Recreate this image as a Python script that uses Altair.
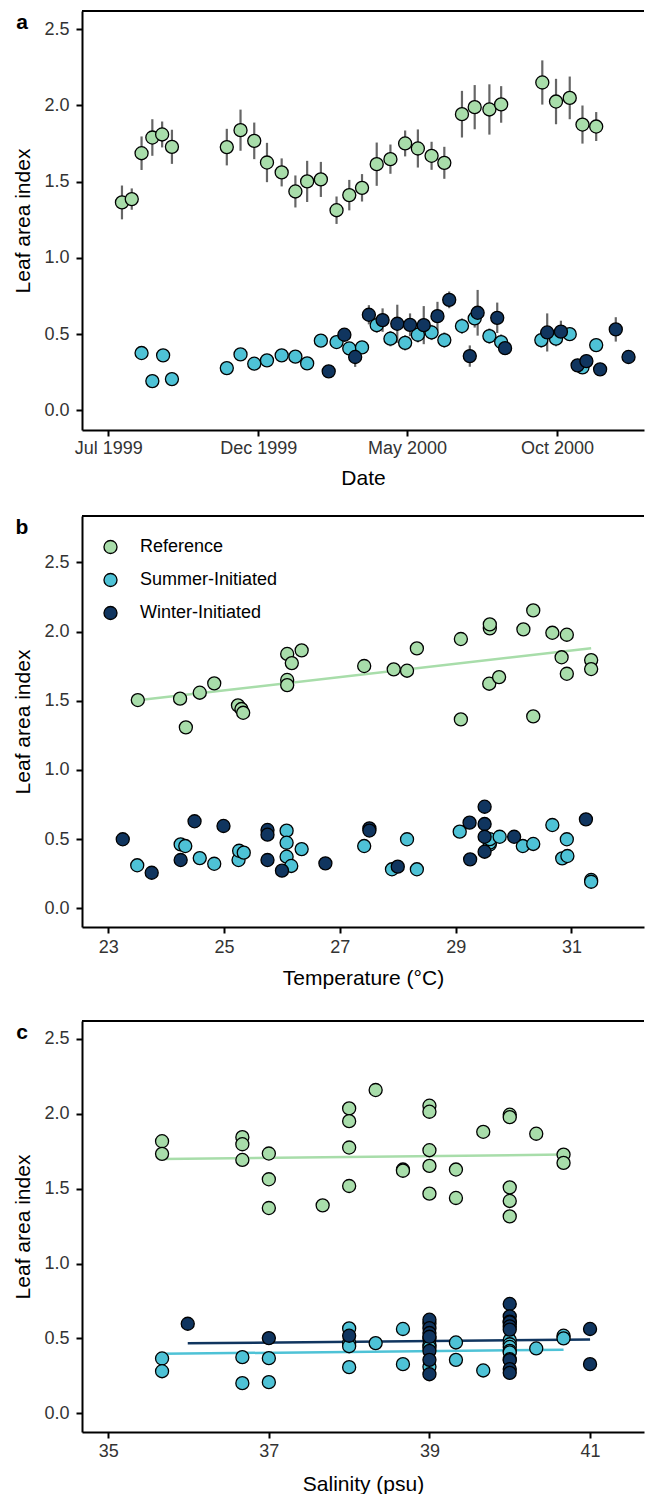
import altair as alt
import pandas as pd

FONT = "Liberation Sans"
GROUPS = ["Reference", "Summer-Initiated", "Winter-Initiated"]
COLORS = ["#a8ddaa", "#4ec2d6", "#10355f"]

# ---------------- panel a : LAI through time (mean +/- error) ----------------
ref_dates = ["1999-07-15", "1999-07-25", "1999-08-04", "1999-08-15", "1999-08-25", "1999-09-04",
             "1999-10-30", "1999-11-13", "1999-11-27", "1999-12-10", "1999-12-25", "2000-01-08",
             "2000-01-20", "2000-02-03", "2000-02-19", "2000-03-03", "2000-03-16", "2000-03-31",
             "2000-04-14", "2000-04-29", "2000-05-12", "2000-05-26", "2000-06-08", "2000-06-26",
             "2000-07-09", "2000-07-24", "2000-08-05", "2000-09-16", "2000-09-30", "2000-10-14",
             "2000-10-27", "2000-11-10"]
ref_lai = [1.364, 1.386, 1.687, 1.790, 1.810, 1.729, 1.727, 1.838, 1.768, 1.626, 1.561, 1.436,
           1.502, 1.515, 1.313, 1.412, 1.460, 1.615, 1.648, 1.751, 1.718, 1.670, 1.624, 1.943,
           1.989, 1.974, 2.007, 2.151, 2.026, 2.050, 1.875, 1.862]
ref_err = [0.111, 0.070, 0.110, 0.120, 0.085, 0.112, 0.120, 0.135, 0.120, 0.129, 0.092, 0.105,
           0.135, 0.115, 0.090, 0.100, 0.090, 0.142, 0.096, 0.085, 0.125, 0.092, 0.105, 0.153,
           0.145, 0.165, 0.120, 0.145, 0.149, 0.140, 0.125, 0.095]

sum_dates = ["1999-08-04", "1999-08-15", "1999-08-26", "1999-09-04", "1999-10-30", "1999-11-13",
             "1999-11-27", "1999-12-10", "1999-12-25", "2000-01-08", "2000-01-20", "2000-02-03",
             "2000-02-19", "2000-03-03", "2000-03-16", "2000-03-31", "2000-04-14", "2000-04-29",
             "2000-05-12", "2000-05-26", "2000-06-08", "2000-06-26", "2000-07-09", "2000-07-24",
             "2000-08-05", "2000-09-15", "2000-09-30", "2000-10-14", "2000-10-27", "2000-11-10"]
sum_lai = [0.376, 0.192, 0.361, 0.205, 0.277, 0.367, 0.306, 0.328, 0.361, 0.352, 0.308, 0.457,
           0.448, 0.406, 0.413, 0.559, 0.470, 0.443, 0.496, 0.511, 0.461, 0.553, 0.603, 0.487,
           0.448, 0.461, 0.470, 0.500, 0.282, 0.428]
sum_err = [0.03, 0.03, 0.03, 0.03, 0.03, 0.03, 0.03, 0.03, 0.03, 0.03, 0.03, 0.04,
           0.04, 0.04, 0.04, 0.05, 0.05, 0.05, 0.05, 0.05, 0.05, 0.05, 0.06, 0.05,
           0.05, 0.05, 0.05, 0.04, 0.03, 0.04]

win_dates = ["2000-02-11", "2000-02-27", "2000-03-09", "2000-03-23", "2000-04-06", "2000-04-21",
             "2000-05-04", "2000-05-18", "2000-06-01", "2000-06-13", "2000-07-04", "2000-07-12",
             "2000-08-01", "2000-08-09", "2000-09-21", "2000-10-05", "2000-10-22", "2000-10-31",
             "2000-11-14", "2000-11-30", "2000-12-13"]
win_lai = [0.256, 0.496, 0.350, 0.627, 0.592, 0.568, 0.561, 0.559, 0.618, 0.725, 0.356, 0.640,
           0.607, 0.408, 0.511, 0.516, 0.295, 0.323, 0.269, 0.531, 0.350]
win_err = [0.03, 0.04, 0.065, 0.063, 0.077, 0.125, 0.075, 0.125, 0.094, 0.055, 0.070, 0.150,
           0.100, 0.040, 0.125, 0.072, 0.040, 0.040, 0.030, 0.080, 0.030]

# ---------------- panel b : LAI vs temperature ----------------
ref_temp = [23.51, 24.24, 24.34, 24.58, 24.83, 25.24, 25.30, 25.33, 26.09, 26.17, 26.09, 26.09,
            26.34, 27.42, 27.93, 28.16, 28.33, 29.09, 29.09, 29.59, 29.59, 29.58, 29.75, 30.17,
            30.34, 30.34, 30.67, 30.92, 30.83, 30.92, 31.34, 31.34]
ref_lai_b = [1.505, 1.515, 1.308, 1.558, 1.626, 1.467, 1.440, 1.413, 1.838, 1.772, 1.650, 1.613,
             1.864, 1.751, 1.727, 1.717, 1.878, 1.946, 1.365, 2.023, 2.052, 1.623, 1.671, 2.016,
             2.153, 1.387, 1.991, 1.977, 1.814, 1.695, 1.794, 1.729]
sum_temp = [23.50, 24.25, 24.33, 24.58, 24.83, 25.25, 25.26, 25.34, 26.08, 26.08, 26.08, 26.16,
            26.34, 27.42, 27.90, 28.16, 28.33, 29.07, 29.59, 29.59, 29.59, 29.76, 30.16, 30.34,
            30.67, 30.92, 30.84, 30.93, 31.34, 31.34]
sum_lai_b = [0.311, 0.462, 0.450, 0.363, 0.322, 0.349, 0.416, 0.402, 0.561, 0.474, 0.373, 0.306,
             0.428, 0.450, 0.282, 0.499, 0.282, 0.554, 0.461, 0.475, 0.500, 0.517, 0.450, 0.465,
             0.602, 0.499, 0.361, 0.378, 0.205, 0.192]
win_temp = [23.25, 23.75, 24.25, 24.49, 24.99, 25.75, 25.75, 25.75, 26.00, 26.75, 27.51, 27.51,
            28.00, 29.24, 29.25, 29.50, 29.50, 29.50, 29.50, 30.01, 31.25]
win_lai_b = [0.499, 0.257, 0.349, 0.629, 0.595, 0.566, 0.532, 0.349, 0.272, 0.325, 0.578, 0.562,
             0.301, 0.619, 0.354, 0.734, 0.609, 0.517, 0.409, 0.517, 0.643]
# fitted line (reference): end points
fitb_ref_x = [23.51, 31.34]
fitb_ref_y = [1.504, 1.879]

# ---------------- panel c : LAI vs salinity ----------------
ref_sal = [35.67, 35.67, 36.67, 36.67, 36.67, 37.0, 37.0, 37.0, 37.67, 38.0, 38.0, 38.0, 38.0,
           38.33, 38.67, 38.67, 39.0, 39.0, 39.0, 39.0, 39.0, 39.33, 39.33, 39.67, 40.0, 40.0,
           40.0, 40.0, 40.0, 40.33, 40.67, 40.67]
ref_lai_c = [1.817, 1.733, 1.844, 1.797, 1.692, 1.735, 1.563, 1.371, 1.389, 2.036, 1.951, 1.775,
             1.518, 2.159, 1.628, 1.620, 2.054, 2.014, 1.757, 1.652, 1.467, 1.628, 1.438, 1.880,
             1.994, 1.978, 1.509, 1.418, 1.315, 1.867, 1.728, 1.672]
sum_sal = [35.67, 35.67, 36.67, 36.67, 37.0, 37.0, 38.0, 38.0, 38.0, 38.0, 38.33, 38.67, 38.67,
           39.0, 39.0, 39.0, 39.0, 39.0, 39.33, 39.33, 39.67, 40.0, 40.0, 40.0, 40.0, 40.0, 40.0,
           40.33, 40.67, 40.67]
sum_lai_c = [0.366, 0.281, 0.375, 0.201, 0.368, 0.208, 0.567, 0.470, 0.448, 0.308, 0.469, 0.563,
             0.328, 0.600, 0.500, 0.457, 0.440, 0.310, 0.473, 0.357, 0.286, 0.489, 0.461, 0.443,
             0.417, 0.406, 0.361, 0.433, 0.518, 0.500]
win_sal = [35.99, 37.0, 38.0, 39.0, 39.0, 39.0, 39.0, 39.0, 39.0, 39.0, 40.0, 40.0, 40.0, 40.0,
           40.0, 40.0, 40.0, 40.0, 40.0, 41.0, 41.0]
win_lai_c = [0.598, 0.502, 0.518, 0.625, 0.568, 0.536, 0.511, 0.417, 0.357, 0.261, 0.730, 0.647,
             0.612, 0.607, 0.580, 0.559, 0.355, 0.295, 0.270, 0.563, 0.328]
fitc_ref_x = [35.67, 40.67]
fitc_ref_y = [1.699, 1.728]
fitc_sum_x = [35.67, 40.67]
fitc_sum_y = [0.397, 0.425]
fitc_win_x = [35.99, 41.0]
fitc_win_y = [0.467, 0.493]

# ---------------- tables ----------------
def table(xname, groups, gname="group"):
    rows = []
    for g, xs, ys in groups:
        for x, y in zip(xs, ys):
            rows.append({xname: x, "lai": y, gname: g})
    return pd.DataFrame(rows)

df_a = pd.DataFrame(
    [{"date": d, "lai": v, "err": e, "group": GROUPS[0]} for d, v, e in zip(ref_dates, ref_lai, ref_err)]
    + [{"date": d, "lai": v, "err": e, "group": GROUPS[1]} for d, v, e in zip(sum_dates, sum_lai, sum_err)]
    + [{"date": d, "lai": v, "err": e, "group": GROUPS[2]} for d, v, e in zip(win_dates, win_lai, win_err)]
)
df_b = table("temp", [(GROUPS[0], ref_temp, ref_lai_b), (GROUPS[1], sum_temp, sum_lai_b),
                      (GROUPS[2], win_temp, win_lai_b)])
fit_b = table("temp", [(GROUPS[0], fitb_ref_x, fitb_ref_y)], gname="fit")
df_c = table("sal", [(GROUPS[0], ref_sal, ref_lai_c), (GROUPS[1], sum_sal, sum_lai_c),
                     (GROUPS[2], win_sal, win_lai_c)])
fit_c = table("sal", [(GROUPS[0], fitc_ref_x, fitc_ref_y), (GROUPS[1], fitc_sum_x, fitc_sum_y),
                      (GROUPS[2], fitc_win_x, fitc_win_y)], gname="fit")
df_leg = pd.DataFrame({"group": GROUPS})

W = 562
PT_SIZE = 170
PT_STROKE = 1.3
YTICKS = [0, 0.5, 1.0, 1.5, 2.0, 2.5]
PANEL_HEIGHTS = {"a": 419, "b": 411, "c": 411}


def cscale():
    return alt.Scale(domain=GROUPS, range=COLORS)


def yenc(field, domain):
    return alt.Y(field, scale=alt.Scale(domain=domain, nice=False, zero=False),
                 axis=alt.Axis(title="Leaf area index", values=YTICKS, format=".1f"))


def points(data, xenc, ydomain):
    return alt.Chart(data).mark_circle(size=PT_SIZE, stroke="black", strokeWidth=PT_STROKE,
                                       opacity=1).encode(
        x=xenc, y=yenc("lai:Q", ydomain),
        color=alt.Color("group:N", scale=cscale(), legend=None))


def fit_lines(data, xenc, ydomain):
    return alt.Chart(data).mark_line(strokeWidth=2.5).encode(
        x=xenc, y=yenc("lai:Q", ydomain),
        stroke=alt.Stroke("fit:N", scale=cscale(), legend=None),
        detail="fit:N")


def top_border():
    return alt.Chart(pd.DataFrame({"k": [0]})).mark_rule(color="black", strokeWidth=2).encode(
        x=alt.value(0), x2=alt.value(W), y=alt.value(0))


def panel_label(txt):
    return alt.Chart(pd.DataFrame({"t": [txt]})).mark_text(
        font=FONT, fontSize=21, fontWeight="bold", align="center", baseline="alphabetic", color="black"
    ).encode(x=alt.value(-60), y=alt.value(18), text="t:N")


def dt(y, m, d, h=0):
    return alt.DateTime(year=y, month=m, date=d, hours=h, utc=True)


# ---- panel a ----
YA = [-0.129, 2.62]
xa = alt.X("date:T",
           scale=alt.Scale(type="utc", domain=[dt(1999, 6, 4, 5), dt(2000, 12, 28, 19)]),
           axis=alt.Axis(title="Date", format="%b %Y", labelPadding=3, titlePadding=10,
                         values=[dt(1999, 7, 1), dt(1999, 12, 1), dt(2000, 5, 1), dt(2000, 10, 1)]))
err_a = alt.Chart(df_a).transform_calculate(
    lo="datum.lai - datum.err", hi="datum.lai + datum.err"
).mark_rule(color="#666666", strokeWidth=2.2).encode(x=xa, y=yenc("lo:Q", YA), y2="hi:Q")
chart_a = alt.layer(top_border(), err_a, points(df_a, xa, YA), panel_label("a")).properties(
    width=W, height=PANEL_HEIGHTS["a"])

# ---- panel b ----
YB = [-0.135, 2.835]
xb = alt.X("temp:Q", scale=alt.Scale(domain=[22.546, 32.253], nice=False, zero=False),
           axis=alt.Axis(title="Temperature (°C)", values=[23, 25, 27, 29, 31], labelPadding=5,
                         titlePadding=11))
data_b = alt.layer(fit_lines(fit_b, xb, YB), points(df_b, xb, YB))
# legend (inside the top-left corner of panel b), one row per group, on its own row scale
leg_row = alt.Y("group:N", scale=alt.Scale(domain=GROUPS, range=[31, 97], type="point", padding=0),
                axis=None)
leg_sym = alt.Chart(df_leg).mark_circle(size=PT_SIZE, stroke="black", strokeWidth=PT_STROKE,
                                        opacity=1).encode(
    x=alt.value(28.5), y=leg_row, color=alt.Color("group:N", scale=cscale(), legend=None))
leg_txt = alt.Chart(df_leg).mark_text(font=FONT, fontSize=18, align="left", baseline="middle",
                                      color="black").encode(
    x=alt.value(58), y=leg_row, text="group:N")
legend_b = alt.layer(leg_sym, leg_txt)
chart_b = alt.layer(top_border(), data_b, legend_b, panel_label("b")).resolve_scale(
    y="independent").resolve_axis(y="independent").properties(
    width=W, height=PANEL_HEIGHTS["b"])

# ---- panel c ----
YC = [-0.125, 2.62]
xc = alt.X("sal:Q", scale=alt.Scale(domain=[34.673, 41.672], nice=False, zero=False),
           axis=alt.Axis(title="Salinity (psu)", values=[35, 37, 39, 41], labelPadding=4,
                         titlePadding=13))
spacer_c = alt.Chart(pd.DataFrame({"k": [0]})).mark_rule(strokeOpacity=0, color="white").encode(
    x=alt.value(0), y=alt.value(-6), y2=alt.value(0))
chart_c = alt.layer(spacer_c, top_border(), fit_lines(fit_c, xc, YC), points(df_c, xc, YC),
                    panel_label("c")).properties(width=W, height=PANEL_HEIGHTS["c"])

chart = alt.vconcat(chart_a, chart_b, chart_c, spacing=27).properties(
    padding={"left": 12, "top": 10, "right": 0, "bottom": 0}
).configure_view(stroke=None).configure_axis(
    domainColor="black", domainWidth=2, tickColor="black", tickWidth=2, tickSize=6,
    labelFont=FONT, labelFontSize=18, labelColor="#333333", titleFont=FONT, titleFontSize=21,
    titleFontWeight="normal", titleColor="black", grid=False, labelOverlap=False, labelFlush=False
).configure_axisY(labelPadding=7, titlePadding=10)

chart.save("out.html", embed_options={"renderer": "svg", "actions": False})
